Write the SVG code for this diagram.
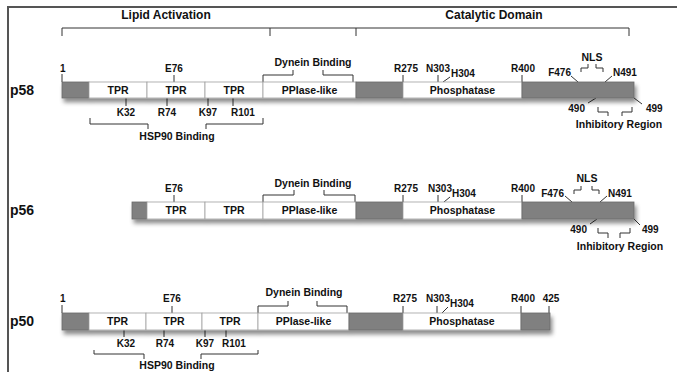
<svg xmlns="http://www.w3.org/2000/svg" width="677" height="372" viewBox="0 0 677 372">
<defs>
<filter id="sh" x="-5%" y="-50%" width="110%" height="250%">
<feDropShadow dx="2" dy="4" stdDeviation="2.2" flood-color="#000" flood-opacity="0.45"/>
</filter>
</defs>
<style>
text{font-family:"Liberation Sans",Arial,Helvetica,sans-serif;font-weight:bold;fill:#111}
.dom{font-size:10.5px;text-anchor:middle}
.res{font-size:10px;text-anchor:middle}
.lab{font-size:10.5px;text-anchor:middle}
.hdr{font-size:12px;text-anchor:middle}
.name{font-size:14px}
.g{fill:#808080;stroke:#6a6a6a;stroke-width:0.8}
.w{fill:#fff;stroke:#a0a0a0;stroke-width:0.8}
.ln{fill:none;stroke:#333;stroke-width:1}
.frame{fill:none;stroke:#555;stroke-width:2}
</style>
<rect width="677" height="372" fill="#fff"/>
<path class="frame" d="M8 372 V7 H677"/>

<g id="header">
<text class="hdr" x="166" y="19">Lipid Activation</text>
<text class="hdr" x="494" y="19">Catalytic Domain</text>
</g>

<g id="connectors">
<path class="ln" d="M62 36 V28 H629 V36 M270 28 V36 M356 28 V36"/>
<!-- p58 -->
<path class="ln" d="M62 74 V82 M174 75 V82 M263 82 V75 H293 V70 M323 70 V75 H353 V82 M403 75 V82 M438 75 V82 M443 82 L450 77 M522 75 V82"/>
<path class="ln" d="M581 72 V68 H588 V64 M596 64 V68 H603 V72 M571 76 L578 82 M612 76 L605 82"/>
<path class="ln" d="M126 98 V106 M167 98 V106 M208 98 V106 M233 98 V106 M90 118 V124 H148 V129 M206 129 V124 H263 V118"/>
<path class="ln" d="M596 98 L588 103 M634 98 L642 104 M598 107 V112 H608 V116 M622 116 V112 H632 V107"/>
<!-- p56 -->
<path class="ln" d="M174 195 V202 M263 202 V195 H294 V190 M324 190 V195 H355 V202 M403 195 V202 M438 195 V202 M444 202 L450 197 M522 195 V202"/>
<path class="ln" d="M574 194 V190 H581 V186 M592 186 V190 H599 V194 M565 196 L572 202 M607 196 L600 202"/>
<path class="ln" d="M597 219 L590 224 M634 219 L640 225 M598 228 V233 H608 V238 M620 238 V233 H630 V228"/>
<!-- p50 -->
<path class="ln" d="M62 305 V313 M172 306 V313 M258 313 V306 H288 V301 M317 301 V306 H347 V313 M403 306 V313 M437 306 V313 M442 313 L448 307 M521 306 V313 M549 306 V313"/>
<path class="ln" d="M124 330 V337 M164 330 V337 M205 330 V337 M226 330 V337 M94 350 V354 H144 V359 M201 359 V354 H258 V350"/>
</g>

<g id="p58">
<text class="name" x="10" y="95">p58</text>
<g filter="url(#sh)">
<rect class="g" x="62" y="82" width="27" height="16"/>
<rect class="w" x="89" y="82" width="58" height="16"/>
<rect class="w" x="147" y="82" width="58" height="16"/>
<rect class="w" x="205" y="82" width="58" height="16"/>
<rect class="w" x="263" y="82" width="93" height="16"/>
<rect class="g" x="356" y="82" width="47" height="16"/>
<rect class="w" x="403" y="82" width="119" height="16"/>
<rect class="g" x="522" y="82" width="112" height="16"/>
</g>
<text class="dom" x="118" y="94">TPR</text>
<text class="dom" x="176" y="94">TPR</text>
<text class="dom" x="234" y="94">TPR</text>
<text class="dom" x="309.5" y="94">PPIase-like</text>
<text class="dom" x="462.5" y="94">Phosphatase</text>
<text class="res" x="60" y="72" style="text-anchor:start">1</text>
<text class="res" x="174" y="72">E76</text>
<text class="lab" x="313" y="66">Dynein Binding</text>
<text class="res" x="406" y="72">R275</text>
<text class="res" x="438" y="72">N303</text>
<text class="res" x="451" y="77" style="text-anchor:start">H304</text>
<text class="res" x="523" y="72">R400</text>
<text class="lab" x="592" y="61">NLS</text>
<text class="res" x="571" y="76" style="text-anchor:end">F476</text>
<text class="res" x="613" y="76" style="text-anchor:start">N491</text>
<text class="res" x="126" y="116">K32</text>
<text class="res" x="167" y="116">R74</text>
<text class="res" x="208" y="116">K97</text>
<text class="res" x="231" y="116" style="text-anchor:start">R101</text>
<text class="lab" x="177" y="140">HSP90 Binding</text>
<text class="res" x="585" y="112" style="text-anchor:end">490</text>
<text class="res" x="646" y="112" style="text-anchor:start">499</text>
<text class="lab" x="619" y="128">Inhibitory Region</text>
</g>

<g id="p56">
<text class="name" x="10" y="215">p56</text>
<g filter="url(#sh)">
<rect class="g" x="132" y="202" width="15" height="17"/>
<rect class="w" x="147" y="202" width="58" height="17"/>
<rect class="w" x="205" y="202" width="58" height="17"/>
<rect class="w" x="263" y="202" width="93" height="17"/>
<rect class="g" x="356" y="202" width="47" height="17"/>
<rect class="w" x="403" y="202" width="119" height="17"/>
<rect class="g" x="522" y="202" width="112" height="17"/>
</g>
<text class="dom" x="176" y="214">TPR</text>
<text class="dom" x="234" y="214">TPR</text>
<text class="dom" x="309.5" y="214">PPIase-like</text>
<text class="dom" x="462.5" y="214">Phosphatase</text>
<text class="res" x="174" y="192">E76</text>
<text class="lab" x="313" y="187">Dynein Binding</text>
<text class="res" x="406" y="192">R275</text>
<text class="res" x="440" y="192">N303</text>
<text class="res" x="452" y="197" style="text-anchor:start">H304</text>
<text class="res" x="523" y="192">R400</text>
<text class="lab" x="587" y="182">NLS</text>
<text class="res" x="564" y="197" style="text-anchor:end">F476</text>
<text class="res" x="608" y="197" style="text-anchor:start">N491</text>
<text class="res" x="587" y="233" style="text-anchor:end">490</text>
<text class="res" x="642" y="233" style="text-anchor:start">499</text>
<text class="lab" x="620" y="250">Inhibitory Region</text>
</g>

<g id="p50">
<text class="name" x="10" y="326">p50</text>
<g filter="url(#sh)">
<rect class="g" x="62" y="313" width="27" height="17"/>
<rect class="w" x="89" y="313" width="57" height="17"/>
<rect class="w" x="146" y="313" width="56" height="17"/>
<rect class="w" x="202" y="313" width="56" height="17"/>
<rect class="w" x="258" y="313" width="91" height="17"/>
<rect class="g" x="349" y="313" width="54" height="17"/>
<rect class="w" x="403" y="313" width="118" height="17"/>
<rect class="g" x="521" y="313" width="29" height="17"/>
</g>
<text class="dom" x="117.5" y="325">TPR</text>
<text class="dom" x="174" y="325">TPR</text>
<text class="dom" x="230" y="325">TPR</text>
<text class="dom" x="303.5" y="325">PPIase-like</text>
<text class="dom" x="462" y="325">Phosphatase</text>
<text class="res" x="60" y="302" style="text-anchor:start">1</text>
<text class="res" x="172" y="302">E76</text>
<text class="lab" x="304" y="296">Dynein Binding</text>
<text class="res" x="405" y="302">R275</text>
<text class="res" x="438" y="302">N303</text>
<text class="res" x="450" y="307" style="text-anchor:start">H304</text>
<text class="res" x="523" y="302">R400</text>
<text class="res" x="551" y="302">425</text>
<text class="res" x="126" y="347">K32</text>
<text class="res" x="165" y="347">R74</text>
<text class="res" x="205" y="347">K97</text>
<text class="res" x="222" y="347" style="text-anchor:start">R101</text>
<text class="lab" x="177" y="369">HSP90 Binding</text>
</g>
</svg>
